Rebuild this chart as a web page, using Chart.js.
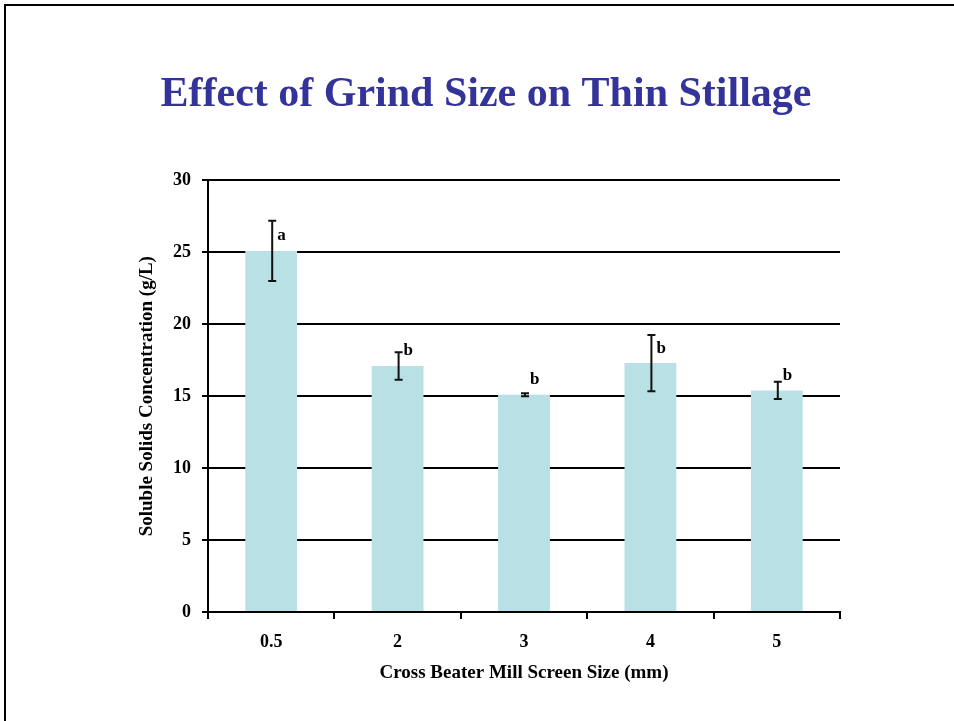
<!DOCTYPE html>
<html>
<head>
    <title>Effect of Grind Size on Thin Stillage</title>
    <script src="https://cdn.jsdelivr.net/npm/chart.js@4/dist/chart.umd.min.js"></script>
    <style>
        html, body {
            margin: 0;
            padding: 0;
            background: #ffffff;
        }
        .slide {
            position: absolute;
            left: 4px;
            top: 4px;
            width: 960px;
            height: 730px;
            border-left: 2px solid #000;
            border-top: 2px solid #000;
        }
        .chart-container {
            position: absolute;
            left: 0;
            top: 0;
            width: 954px;
            height: 721px;
        }
    </style>
</head>
<body>
    <div class="slide"></div>
    <div class="chart-container">
        <canvas id="grindChart"></canvas>
    </div>

    <script>
        const screenSizes = ['0.5', '2', '3', '4', '5'];
        const solubleSolids = [25.1, 17.1, 15.1, 17.3, 15.4];
        const errorValues = [2.1, 0.95, 0.1, 1.95, 0.6];
        const groupLetters = ['a', 'b', 'b', 'b', 'b'];

        const serif = '"Liberation Serif", "DejaVu Serif", serif';

        // error bars + significance letters
        const errorBarPlugin = {
            id: 'errorBars',
            afterDatasetsDraw(chart) {
                const ctx = chart.ctx;
                const meta = chart.getDatasetMeta(0);
                const y = chart.scales.y;
                ctx.save();
                ctx.strokeStyle = '#111';
                ctx.lineWidth = 2;
                meta.data.forEach((bar, i) => {
                    const x = bar.x + 1;
                    const top = y.getPixelForValue(solubleSolids[i] + errorValues[i]);
                    const bottom = y.getPixelForValue(solubleSolids[i] - errorValues[i]);
                    ctx.beginPath();
                    ctx.moveTo(x, top);
                    ctx.lineTo(x, bottom);
                    ctx.moveTo(x - 4, top);
                    ctx.lineTo(x + 4, top);
                    ctx.moveTo(x - 4, bottom);
                    ctx.lineTo(x + 4, bottom);
                    ctx.stroke();

                    ctx.fillStyle = '#000';
                    ctx.font = 'bold 17px ' + serif;
                    ctx.textAlign = 'left';
                    ctx.textBaseline = 'middle';
                    ctx.fillText(groupLetters[i], bar.x + 6, bar.y - 15);
                });
                ctx.restore();
            }
        };

        const ctx = document.getElementById('grindChart').getContext('2d');

        new Chart(ctx, {
            type: 'bar',
            data: {
                labels: screenSizes,
                datasets: [{
                    label: 'Soluble Solids',
                    data: solubleSolids,
                    backgroundColor: 'rgb(185, 224, 228)',
                    borderWidth: 0,
                    barPercentage: 0.41,
                    categoryPercentage: 1.0
                }]
            },
            options: {
                responsive: true,
                maintainAspectRatio: false,
                animation: false,
                layout: {
                    padding: { left: 132, right: 114, top: 20, bottom: 33 }
                },
                plugins: {
                    legend: { display: false },
                    tooltip: { enabled: false },
                    title: {
                        display: true,
                        text: 'Effect of Grind Size on Thin Stillage',
                        color: '#333399',
                        font: { family: serif, size: 42, weight: 'bold' },
                        padding: { top: 50, bottom: 60 }
                    }
                },
                scales: {
                    y: {
                        min: 0,
                        max: 30,
                        ticks: {
                            stepSize: 5,
                            color: '#000',
                            padding: 11,
                            font: { family: serif, size: 18, weight: 'bold' }
                        },
                        grid: {
                            color: '#000',
                            lineWidth: 2,
                            tickLength: 6
                        },
                        border: { color: '#000', width: 2 },
                        title: {
                            display: true,
                            text: 'Soluble Solids Concentration (g/L)',
                            color: '#000',
                            font: { family: serif, size: 19, weight: 'bold' },
                            padding: 4
                        },
                        afterFit(scale) { scale.width = 76; }
                    },
                    x: {
                        ticks: {
                            color: '#000',
                            padding: 13,
                            font: { family: serif, size: 18, weight: 'bold' }
                        },
                        grid: {
                            color: '#000',
                            lineWidth: 2,
                            drawOnChartArea: false,
                            tickLength: 7
                        },
                        border: { color: '#000', width: 2 },
                        title: {
                            display: true,
                            text: 'Cross Beater Mill Screen Size (mm)',
                            color: '#000',
                            font: { family: serif, size: 19, weight: 'bold' },
                            padding: { top: 0, bottom: 4 }
                        },
                        afterFit(scale) { scale.height = 76; }
                    }
                }
            },
            plugins: [errorBarPlugin]
        });
    </script>
</body>
</html>
